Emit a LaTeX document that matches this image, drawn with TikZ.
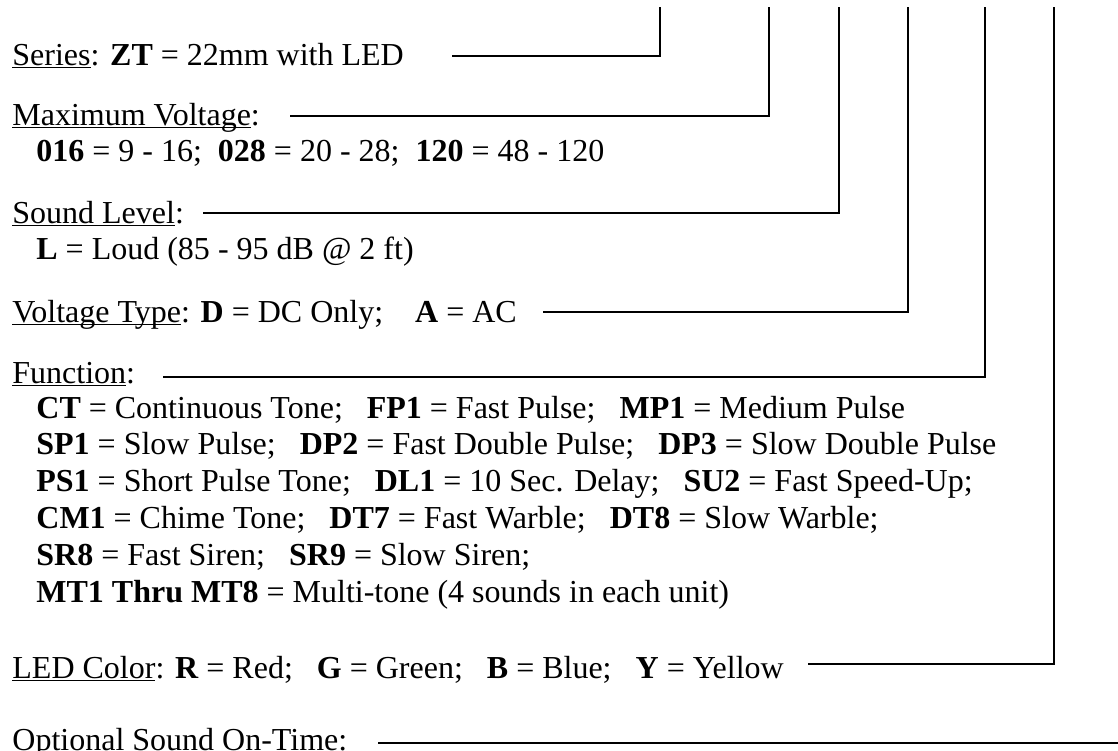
\documentclass[tikz,border=0pt]{standalone}
\usepackage{fontspec}
\setmainfont{Liberation Serif}
\usepackage{tikz}
\usetikzlibrary{positioning}

% underline at a fixed depth, through the descenders
\newcommand{\uln}[1]{\setbox0\hbox{#1}\rlap{\rule[-1.7pt]{\wd0}{0.85pt}}\box0}

\tikzset{
    desc/.style={anchor=base west, inner sep=0pt, font=\fontsize{16}{18.4}\selectfont},
    lead/.style={line width=0.85pt, draw=black}
}

\begin{document}
\begin{tikzpicture}[x=0.5pt, y=-0.5pt]
    \useasboundingbox (0,0) rectangle (1118,750);

    % Option descriptions
    \node[desc] (series) at (12,65) {\uln{Series}: \textbf{ZT} = 22mm with LED};
    \node[desc] (maxv) at (12,125) {\uln{Maximum Voltage}:};
    \node[desc] (maxvopt) at (36,161.5) {\textbf{016} = 9 - 16;\ \ \textbf{028} = 20 - 28;\ \ \textbf{120} = 48 - 120};
    \node[desc] (sound) at (12,223) {\uln{Sound Level}:};
    \node[desc] (soundopt) at (36,259) {\textbf{L} = Loud (85 - 95 dB @ 2 ft)};
    \node[desc] (vtype) at (12,322) {\uln{Voltage Type}: \textbf{D} = DC Only;\ \ \ \ \textbf{A} = AC};
    \node[desc] (func) at (12,383) {\uln{Function}:};
    \node[desc] (func1) at (36,418) {\textbf{CT} = Continuous Tone;\ \ \ \textbf{FP1} = Fast Pulse;\ \ \ \textbf{MP1} = Medium Pulse};
    \node[desc] (func2) at (36,454.5) {\textbf{SP1} = Slow Pulse;\ \ \ \textbf{DP2} = Fast Double Pulse;\ \ \ \textbf{DP3} = Slow Double Pulse};
    \node[desc] (func3) at (36,491) {\textbf{PS1} = Short Pulse Tone;\ \ \ \textbf{DL1} = 10 Sec. Delay;\ \ \ \textbf{SU2} = Fast Speed-Up;};
    \node[desc] (func4) at (36,528) {\textbf{CM1} = Chime Tone;\ \ \ \textbf{DT7} = Fast Warble;\ \ \ \textbf{DT8} = Slow Warble;};
    \node[desc] (func5) at (36,565) {\textbf{SR8} = Fast Siren;\ \ \ \textbf{SR9} = Slow Siren;};
    \node[desc] (func6) at (36,602) {\textbf{MT1 Thru MT8} = Multi-tone (4 sounds in each unit)};
    \node[desc] (led) at (12,678) {\uln{LED Color}: \textbf{R} = Red;\ \ \ \textbf{G} = Green;\ \ \ \textbf{B} = Blue;\ \ \ \textbf{Y} = Yellow};
    \node[desc] (ontime) at (12,750) {Optional Sound On-Time:};

    % Leader ends
    \coordinate (series-s) at (452,56);   \coordinate (series-t) at (660,7);
    \coordinate (maxv-s) at (290,116);    \coordinate (maxv-t) at (769,7);
    \coordinate (sound-s) at (203,213);   \coordinate (sound-t) at (839,7);
    \coordinate (vtype-s) at (543,312);   \coordinate (vtype-t) at (908,7);
    \coordinate (func-s) at (163,377);    \coordinate (func-t) at (985,7);
    \coordinate (led-s) at (808,664);     \coordinate (led-t) at (1054,7);
    \coordinate (ontime-s) at (378,743);  \coordinate (ontime-t) at (1118,743);

    % Leaders
    \draw[lead] (series-s) -| (series-t);
    \draw[lead] (maxv-s) -| (maxv-t);
    \draw[lead] (sound-s) -| (sound-t);
    \draw[lead] (vtype-s) -| (vtype-t);
    \draw[lead] (func-s) -| (func-t);
    \draw[lead] (led-s) -| (led-t);
    \draw[lead] (ontime-s) -- (ontime-t);
\end{tikzpicture}
\end{document}
